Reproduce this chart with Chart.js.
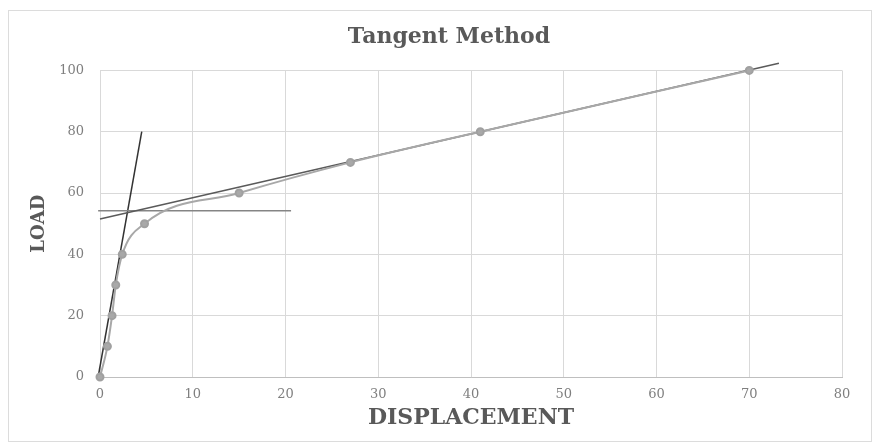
<!DOCTYPE html>
<html>
<head>
<meta charset="utf-8">
<title>Tangent Method</title>
<script src="https://cdn.jsdelivr.net/npm/chart.js@4.4.1/dist/chart.umd.min.js"></script>
<style>
    body { margin: 0; background: #fff; }
    #frame { position: absolute; left: 8px; top: 10px; width: 862px; height: 430px; border: 1px solid #dcdcdc; }
    #myChart { position: absolute; left: 0; top: 0; }
</style>
</head>
<body>
<div id="frame"></div>
<canvas id="myChart" width="878" height="446"></canvas>
<script>
    "use strict";

    // load test readings
    const displacement = [0, 0.8, 1.3, 1.7, 2.4, 4.8, 15, 27, 41, 70];
    const load = [0, 10, 20, 30, 40, 50, 60, 70, 80, 100];

    // construction lines of the tangent method
    const initialTangentX = [-0.2, 4.5];
    const initialTangentY = [0, 80];
    const yieldLineX = [-0.2, 20.6];
    const yieldLineY = [54.2, 54.2];
    const finalTangentX = [0, 73.2];
    const finalTangentY = [51.5, 102.3];

    const xTicks = [0, 10, 20, 30, 40, 50, 60, 70, 80];
    const yTicks = [0, 20, 40, 60, 80, 100];

    function toPoints(xs, ys) {
        return xs.map(function (x, i) { return {x: x, y: ys[i]}; });
    }

    function lineSet(xs, ys, color) {
        return {
            data: toPoints(xs, ys),
            showLine: true,
            borderColor: color,
            borderWidth: 1.5,
            pointRadius: 0,
            pointHoverRadius: 0,
            clip: false
        };
    }

    const serif = 'DejaVu Serif';
    const ctx = document.getElementById('myChart').getContext('2d');

    const chart = new Chart(ctx, {
        type: 'scatter',
        data: {
            datasets: [
                {
                    data: toPoints(displacement, load),
                    showLine: true,
                    cubicInterpolationMode: 'monotone',
                    borderColor: '#a8a8a8',
                    borderWidth: 2,
                    backgroundColor: '#a8a8a8',
                    pointBorderColor: '#a0a0a0',
                    pointRadius: 3.5,
                    clip: false
                },
                lineSet(finalTangentX, finalTangentY, '#5a5a5a'),
                lineSet(yieldLineX, yieldLineY, '#858585'),
                lineSet(initialTangentX, initialTangentY, '#333333')
            ]
        },
        options: {
            responsive: false,
            animation: false,
            layout: {
                padding: {left: 20, right: 0, top: 0, bottom: 0}
            },
            plugins: {
                legend: {display: false},
                tooltip: {enabled: false},
                title: {
                    display: true,
                    text: 'Tangent Method',
                    color: '#595959',
                    font: {family: serif, size: 22, weight: 'bold', lineHeight: 1.2},
                    padding: {top: 24, bottom: 20}
                }
            },
            scales: {
                x: {
                    type: 'linear',
                    min: 0,
                    max: 80,
                    afterBuildTicks: function (scale) {
                        scale.ticks = xTicks.map(function (v) { return {value: v}; });
                    },
                    afterFit: function (scale) { scale.height = 69; },
                    grid: {color: '#d9d9d9', drawTicks: false},
                    border: {color: '#bfbfbf'},
                    ticks: {
                        color: '#7f7f7f',
                        padding: 10,
                        maxRotation: 0,
                        font: {family: serif, size: 13}
                    },
                    title: {
                        display: true,
                        text: 'DISPLACEMENT',
                        color: '#595959',
                        font: {family: serif, size: 22, weight: 'bold', lineHeight: 1.2},
                        padding: {top: 0, bottom: 15}
                    }
                },
                y: {
                    type: 'linear',
                    min: 0,
                    max: 100,
                    afterBuildTicks: function (scale) {
                        scale.ticks = yTicks.map(function (v) { return {value: v}; });
                    },
                    afterFit: function (scale) { scale.width = 80; },
                    grid: {color: '#d9d9d9', drawTicks: false},
                    border: {display: false},
                    ticks: {
                        color: '#7f7f7f',
                        padding: 16,
                        font: {family: serif, size: 13}
                    },
                    title: {
                        display: true,
                        text: 'LOAD',
                        color: '#595959',
                        font: {family: serif, size: 18, weight: 'bold', lineHeight: 1.2},
                        padding: {top: 9, bottom: 0}
                    }
                },
                // empty right-hand axis, only keeps the plot clear of the frame
                yRight: {
                    type: 'linear',
                    position: 'right',
                    min: 0,
                    max: 100,
                    afterFit: function (scale) { scale.width = 36; },
                    grid: {display: false},
                    border: {display: false},
                    ticks: {display: false}
                }
            }
        }
    });
</script>
</body>
</html>
